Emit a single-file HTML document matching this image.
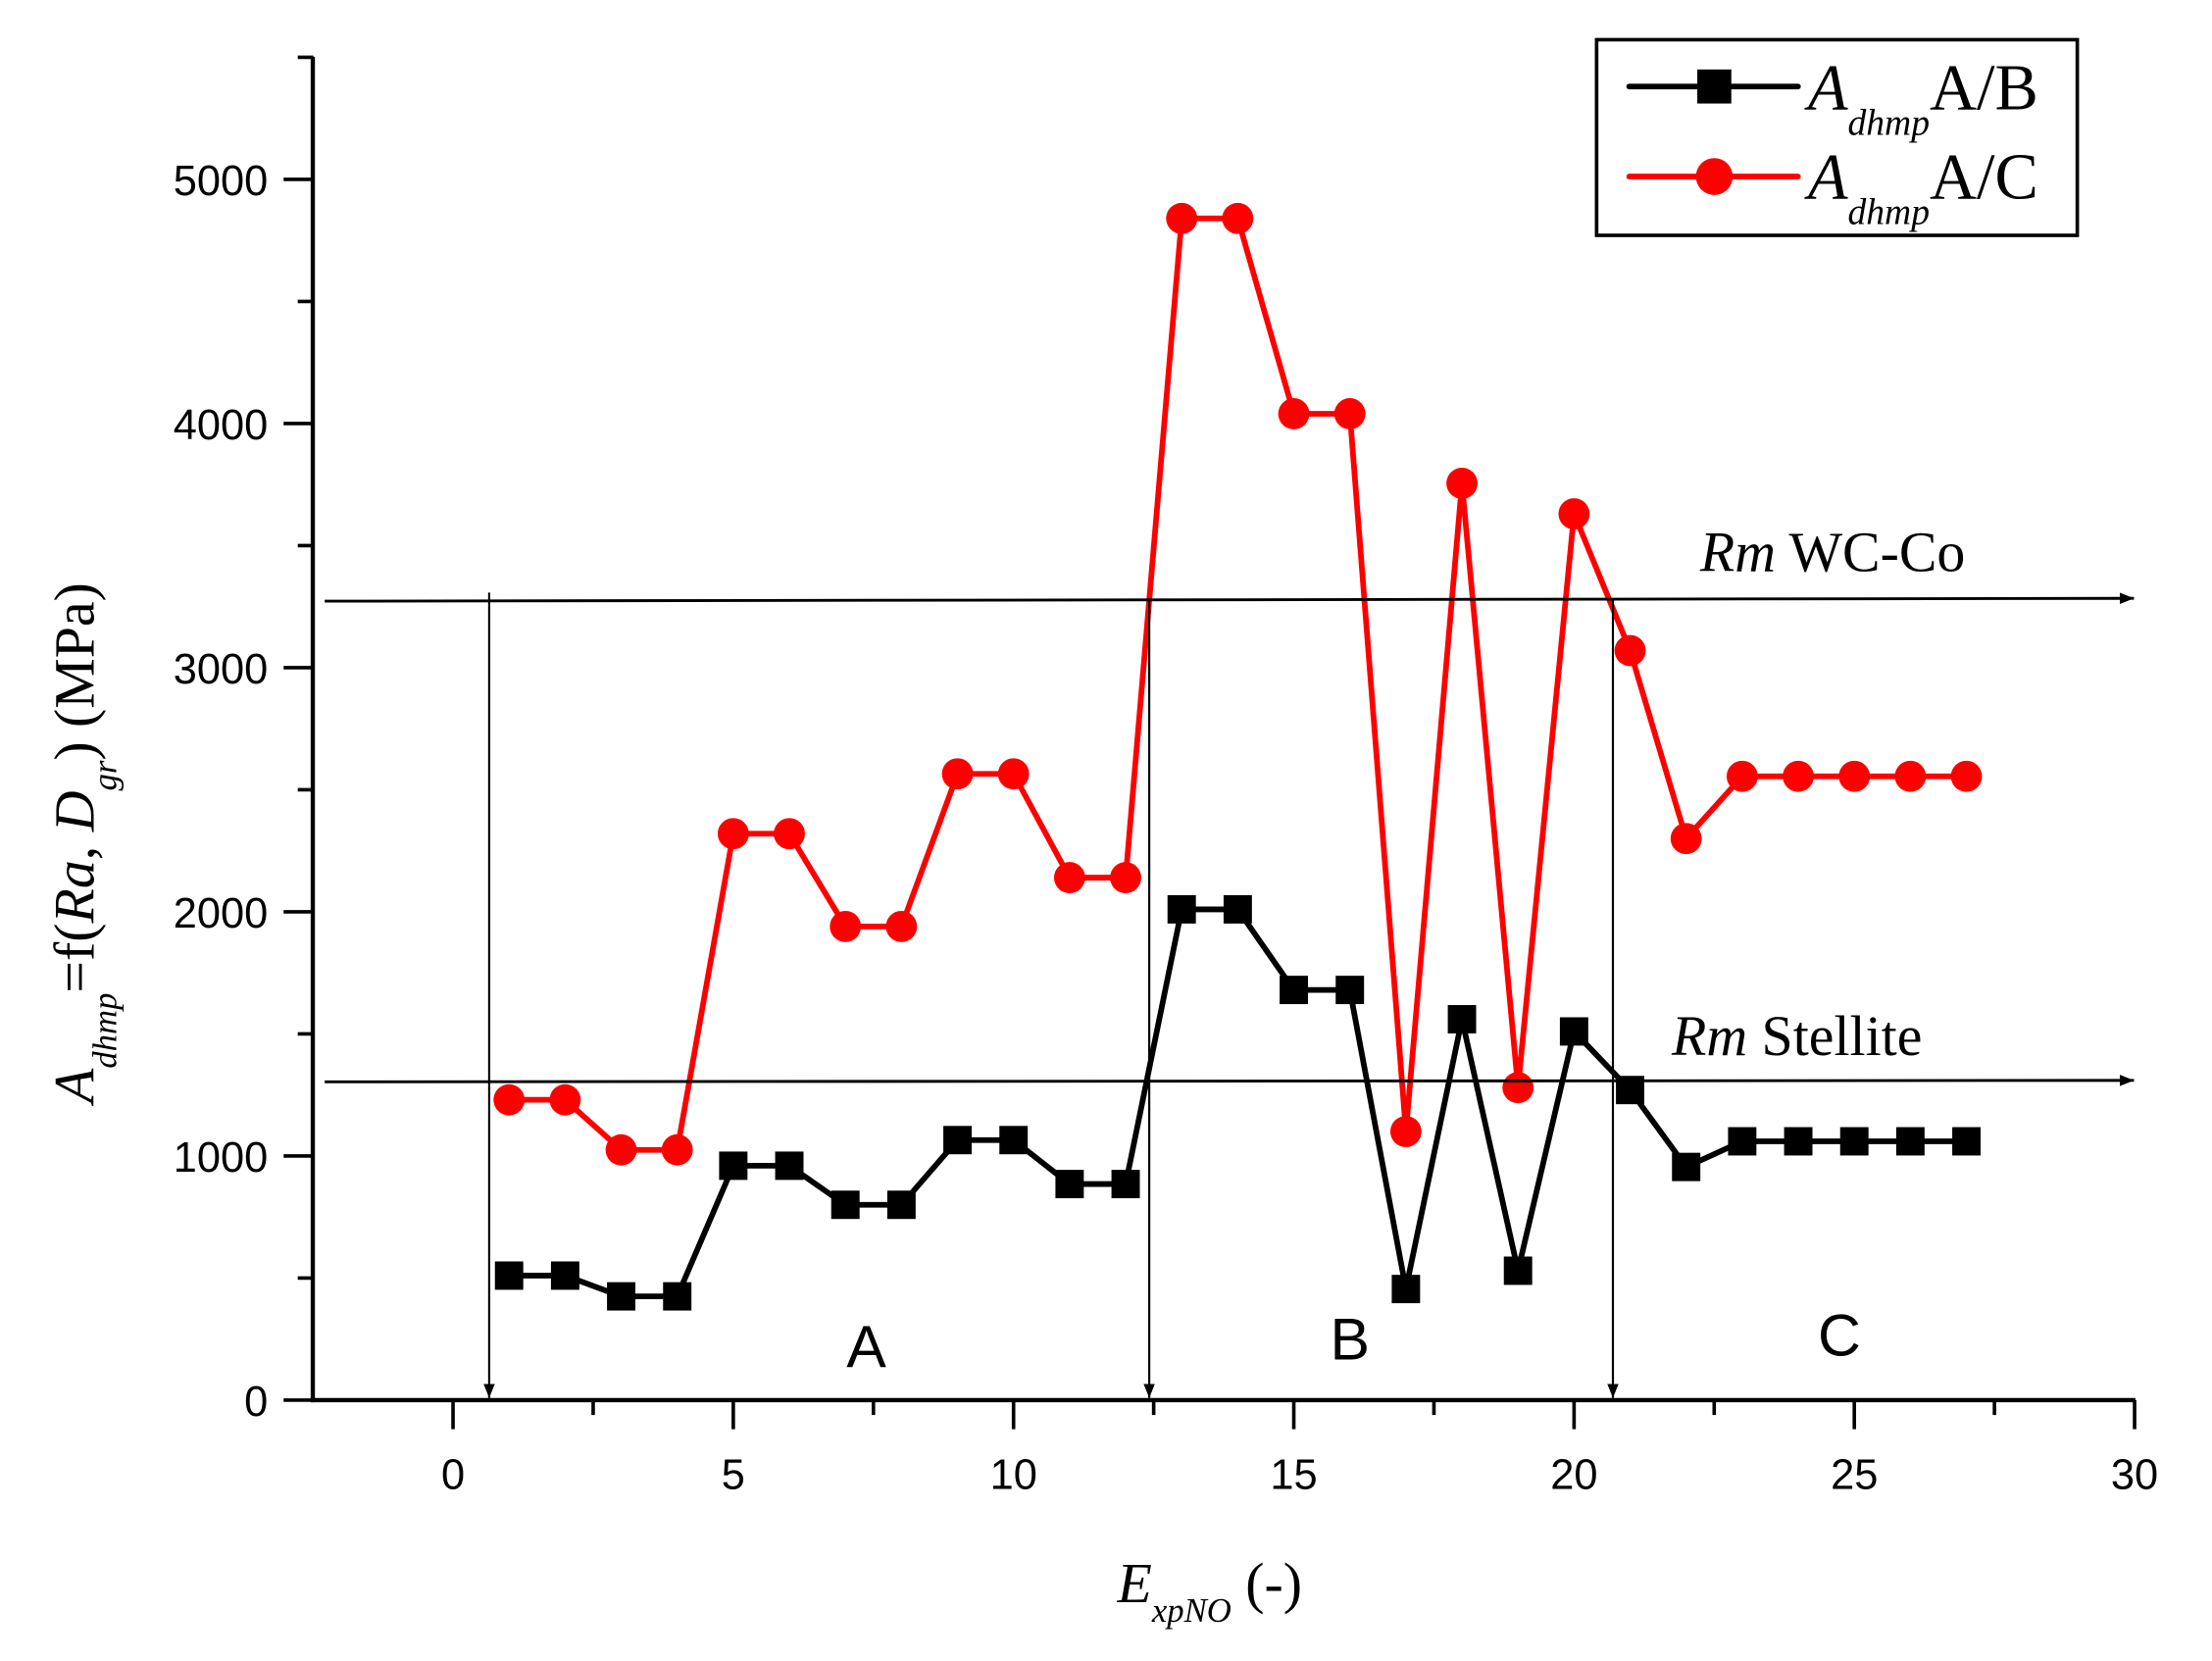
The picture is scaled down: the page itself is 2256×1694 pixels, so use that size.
<!DOCTYPE html>
<html><head><meta charset="utf-8"><style>html,body{margin:0;padding:0;background:#fff}svg{display:block}</style></head>
<body>
<svg id="s" width="2256" height="1694" viewBox="0 0 1560 1171.5" preserveAspectRatio="none" xmlns="http://www.w3.org/2000/svg" font-family="Liberation Sans, sans-serif">
<defs>
<marker id="ar" markerWidth="10" markerHeight="8" refX="10" refY="4" orient="auto" markerUnits="userSpaceOnUse"><path d="M0,0 L10,4 L0,8 z" fill="#000"/></marker>
</defs>
<g id="g"></g>
<line x1="229" y1="424" x2="1505" y2="422" stroke="#000" stroke-width="2" marker-end="url(#ar)"/>
<line x1="229" y1="763" x2="1505" y2="762" stroke="#000" stroke-width="2" marker-end="url(#ar)"/>
<line x1="345" y1="418" x2="345" y2="986" stroke="#000" stroke-width="1.5" marker-end="url(#ar)"/>
<line x1="810.5" y1="423" x2="810.5" y2="986" stroke="#000" stroke-width="1.5" marker-end="url(#ar)"/>
<line x1="1137.5" y1="423" x2="1137.5" y2="986" stroke="#000" stroke-width="1.5" marker-end="url(#ar)"/>
<text x="1199" y="403" font-family="Liberation Serif, serif" font-size="40"><tspan font-style="italic">Rm</tspan> WC-Co</text>
<text x="1179" y="744" font-family="Liberation Serif, serif" font-size="40"><tspan font-style="italic">Rm</tspan> Stellite</text>
<text x="597" y="964" font-size="42">A</text>
<text x="938" y="959" font-size="42">B</text>
<text x="1282" y="956" font-size="42">C</text>
<rect x="1126" y="28" width="339" height="138" fill="#fff" stroke="#000" stroke-width="2.5"/>
<line x1="1149" y1="61" x2="1268" y2="61" stroke="#000" stroke-width="4" stroke-linecap="round"/>
<rect x="1197" y="49" width="24" height="24" fill="#000"/>
<line x1="1149" y1="124.5" x2="1268" y2="124.5" stroke="#f00" stroke-width="4" stroke-linecap="round"/>
<circle cx="1209" cy="124.5" r="13" fill="#f00"/>
<text x="1275" y="77" font-family="Liberation Serif, serif" font-size="46"><tspan font-style="italic">A</tspan><tspan font-style="italic" font-size="26" dy="18">dhmp</tspan><tspan dy="-18">A/B</tspan></text>
<text x="1275" y="140" font-family="Liberation Serif, serif" font-size="46"><tspan font-style="italic">A</tspan><tspan font-style="italic" font-size="26" dy="18">dhmp</tspan><tspan dy="-18">A/C</tspan></text>
<text x="788" y="1130" font-family="Liberation Serif, serif" font-size="40"><tspan font-style="italic">E</tspan><tspan font-style="italic" font-size="24" dy="14">xpNO</tspan><tspan dy="-14"> (-)</tspan></text>
<g transform="translate(66,778) rotate(-90)"><text x="0" y="0" font-family="Liberation Serif, serif" font-size="40"><tspan font-style="italic">A</tspan><tspan font-style="italic" font-size="24" dy="16">dhmp</tspan><tspan dy="-16">=f(</tspan><tspan font-style="italic">Ra</tspan><tspan>, </tspan><tspan font-style="italic">D</tspan><tspan font-style="italic" font-size="24" dy="16">gr</tspan><tspan dy="-16">)  (MPa)</tspan></text></g>
</svg>
<script>
const g=document.getElementById('g');
const X=v=>319.5+v*39.53, Y=v=>987.5-v*0.1722;
let h='';
h+='<line x1="220.6" y1="40" x2="220.6" y2="989" stroke="#000" stroke-width="3"/>';
h+='<line x1="219" y1="987.5" x2="1506" y2="987.5" stroke="#000" stroke-width="3"/>';
for(let v=-2.5;v<=30.01;v+=2.5){const x=X(v);if(x<221)continue;const maj=Math.abs(v%5)<0.01;h+=`<line x1="${x}" y1="987.5" x2="${x}" y2="${maj?1008:998}" stroke="#000" stroke-width="2.5"/>`;if(maj)h+=`<text x="${x}" y="1050" font-size="30" text-anchor="middle">${v}</text>`;}
for(let v=0;v<=5500;v+=500){const y=Y(v);const maj=v%1000==0;h+=`<line x1="${maj?200:210}" y1="${y}" x2="221" y2="${y}" stroke="#000" stroke-width="2.5"/>`;if(maj)h+=`<text x="189" y="${y+11}" font-size="30" text-anchor="end">${v}</text>`;}
const b=[510,510,425,425,960,960,800,800,1065,1065,885,885,2010,2010,1680,1680,455,1560,530,1510,1270,955,1060,1060,1060,1060,1060];
const r=[1230,1230,1025,1025,2320,2320,1940,1940,2565,2565,2140,2140,4840,4840,4040,4040,1100,3755,1280,3630,3070,2300,2555,2555,2555,2555,2555];
h+=`<polyline fill="none" stroke="#f00" stroke-width="4" points="${r.map((v,i)=>X(i+1)+','+Y(v)).join(' ')}"/>`;
r.forEach((v,i)=>h+=`<circle cx="${X(i+1)}" cy="${Y(v)}" r="11" fill="#f00"/>`);
h+=`<polyline fill="none" stroke="#000" stroke-width="4" points="${b.map((v,i)=>X(i+1)+','+Y(v)).join(' ')}"/>`;
b.forEach((v,i)=>h+=`<rect x="${X(i+1)-10}" y="${Y(v)-10}" width="20" height="20" fill="#000"/>`);
g.innerHTML=h;
</script>
</body></html>
